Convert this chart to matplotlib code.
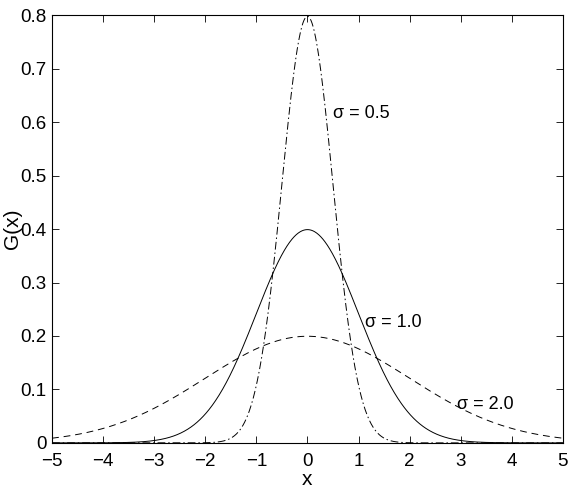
import matplotlib
matplotlib.use("Agg")
import matplotlib.pyplot as plt
import numpy as np

plt.rcParams['font.family'] = ['Liberation Sans', 'DejaVu Sans']

# data: widths of the three Gaussians, their line styles and label spots
sigmas = [0.5, 1.0, 2.0]
dash_styles = [(0, (8, 3, 1.5, 3)), 'solid', (0, (7, 5))]
label_x = [0.50, 1.13, 2.93]
label_y = [0.617, 0.226, 0.071]
x_ticks = [-5, -4, -3, -2, -1, 0, 1, 2, 3, 4, 5]
y_ticks = [0, 0.1, 0.2, 0.3, 0.4, 0.5, 0.6, 0.7, 0.8]

x = np.linspace(-5, 5, 1001)

fig = plt.figure(figsize=(5.72, 4.91), dpi=100)
ax = fig.add_axes([0.091, 0.098, 0.893, 0.871])

for s, ls, tx, ty in zip(sigmas, dash_styles, label_x, label_y):
    g = np.exp(-x**2 / (2 * s**2)) / (s * np.sqrt(2 * np.pi))
    ax.plot(x, g, linestyle=ls, color='black', lw=0.7)
    ax.text(tx, ty, '\u03c3 = %.1f' % s, fontsize=13, va='center', ha='left')

ax.set_xlim(-5, 5)
ax.set_ylim(0, 0.8)
ax.set_xticks(x_ticks)
ax.set_yticks(y_ticks)
ax.set_xticklabels(['\u2212%d' % -t if t < 0 else str(t) for t in x_ticks])
ax.set_yticklabels(['0'] + ['%.1f' % t for t in y_ticks[1:]])
ax.tick_params(direction='in', top=True, right=True, labelsize=13.5,
               length=5, width=0.6)
ax.tick_params(axis='x', pad=7)
ax.tick_params(axis='y', pad=4)
for sp in ax.spines.values():
    sp.set_linewidth(0.8)
ax.set_xlabel('x', fontsize=15, labelpad=0)
ax.set_ylabel('G(x)', fontsize=15, va='center')
ax.yaxis.set_label_coords(-0.077, 0.5)

fig.savefig('out.png', dpi=100)
